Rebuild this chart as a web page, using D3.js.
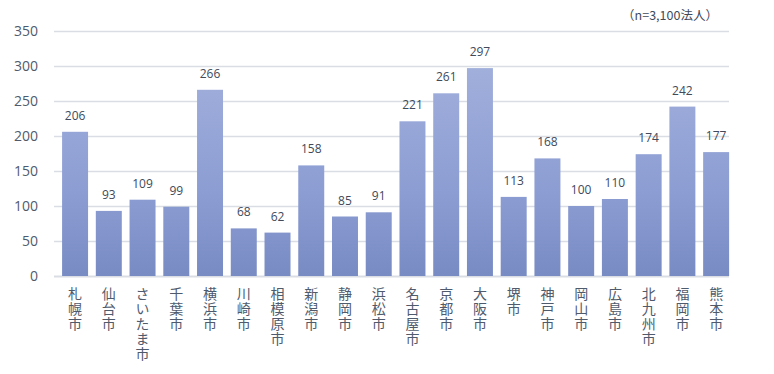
<!DOCTYPE html>
<html>
<head>
<meta charset="utf-8">
<script src="https://cdn.jsdelivr.net/npm/d3@7"></script>
<style>
  body { margin: 0; background: #fff; }
  svg { display: block; }
</style>
</head>
<body>
<div id="chart"></div>
<script>
// cities and counts
var cities = ['札幌市', '仙台市', 'さいたま市', '千葉市', '横浜市', '川崎市', '相模原市', '新潟市', '静岡市', '浜松市',
  '名古屋市', '京都市', '大阪市', '堺市', '神戸市', '岡山市', '広島市', '北九州市', '福岡市', '熊本市'];
var counts = [206, 93, 109, 99, 266, 68, 62, 158, 85, 91, 221, 261, 297, 113, 168, 100, 110, 174, 242, 177];
var yTicks = [0, 50, 100, 150, 200, 250, 300, 350];
var note = '（n=3,100法人）';

var width = 774, height = 374;
var textColor = '#4f5b6d';

var svg = d3.select('#chart').append('svg')
  .attr('width', width)
  .attr('height', height);

var x = d3.scaleBand()
  .domain(cities)
  .range([58.2, 733])
  .paddingInner(0.23)
  .paddingOuter(0.115);

var y = d3.scaleLinear()
  .domain([0, 350])
  .range([276, 31]);

var defs = svg.append('defs');
var grad = defs.append('linearGradient')
  .attr('id', 'barGrad')
  .attr('gradientUnits', 'userSpaceOnUse')
  .attr('x1', 0).attr('y1', y(300))
  .attr('x2', 0).attr('y2', y(0));
grad.append('stop').attr('offset', '0%').attr('stop-color', '#a1afdb');
grad.append('stop').attr('offset', '60%').attr('stop-color', '#8c9dd3');
grad.append('stop').attr('offset', '100%').attr('stop-color', '#788bc3');

// grid lines
svg.append('g')
  .selectAll('line')
  .data(yTicks)
  .enter().append('line')
  .attr('x1', 54)
  .attr('x2', 729)
  .attr('y1', function(d) { return Math.round(y(d)) + 0.5; })
  .attr('y2', function(d) { return Math.round(y(d)) + 0.5; })
  .attr('stroke', '#dadde3')
  .attr('stroke-width', function(d) { return d === 0 ? 2 : 1.5; });

// y axis labels
svg.append('g')
  .selectAll('text')
  .data(yTicks)
  .enter().append('text')
  .attr('x', 38)
  .attr('y', function(d) { return y(d); })
  .attr('dy', '0.36em')
  .attr('text-anchor', 'end')
  .attr('font-family', '"Open Sans", "Noto Sans", sans-serif')
  .attr('font-size', 14)
  .attr('fill', textColor)
  .text(function(d) { return d; });

// bars
svg.append('g')
  .selectAll('rect')
  .data(cities)
  .enter().append('rect')
  .attr('x', function(d) { return x(d); })
  .attr('y', function(d, i) { return y(counts[i]); })
  .attr('width', x.bandwidth())
  .attr('height', function(d, i) { return y(0) - y(counts[i]); })
  .attr('fill', 'url(#barGrad)');

// value labels
svg.append('g')
  .selectAll('text')
  .data(cities)
  .enter().append('text')
  .attr('x', function(d) { return x(d) + x.bandwidth() / 2; })
  .attr('y', function(d, i) { return y(counts[i]) - 12; })
  .attr('text-anchor', 'middle')
  .attr('font-family', '"Open Sans", "Noto Sans", sans-serif')
  .attr('font-size', 12)
  .attr('fill', '#404a5a')
  .text(function(d, i) { return counts[i]; });

// category labels, written top to bottom
svg.append('g')
  .selectAll('text')
  .data(cities)
  .enter().append('text')
  .attr('x', function(d) { return x(d) + x.bandwidth() / 2; })
  .attr('y', 287)
  .style('writing-mode', 'vertical-rl')
  .style('text-orientation', 'upright')
  .style('letter-spacing', '1px')
  .attr('font-family', '"Noto Sans CJK JP", sans-serif')
  .attr('font-size', 14)
  .attr('fill', textColor)
  .text(function(d) { return d; });

svg.append('text')
  .attr('x', 670)
  .attr('y', 20)
  .attr('text-anchor', 'middle')
  .attr('font-family', '"Noto Sans CJK JP", sans-serif')
  .attr('font-size', 12.5)
  .attr('fill', '#404a5a')
  .text(note);
</script>
</body>
</html>
